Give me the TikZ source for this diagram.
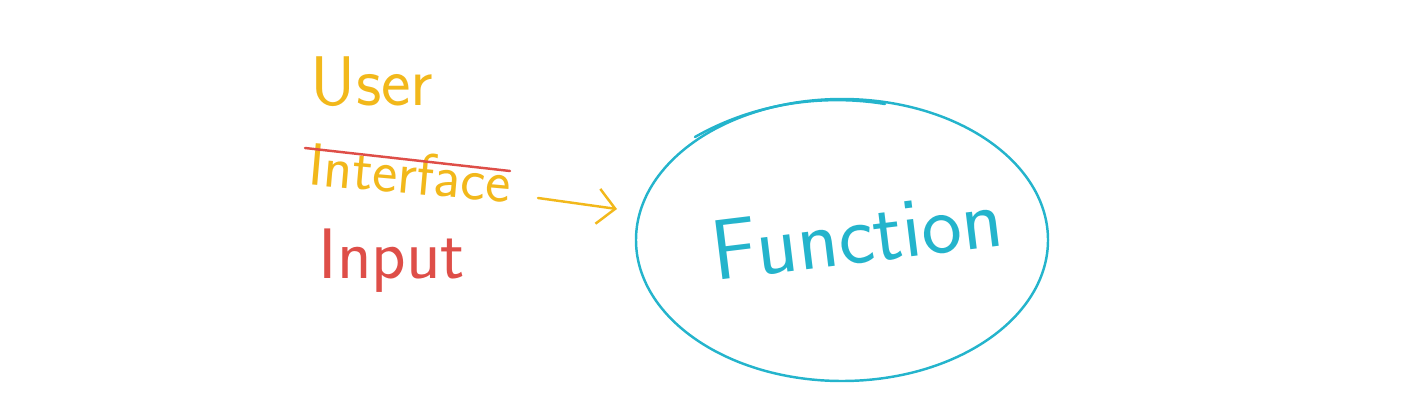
\documentclass[tikz,border=0pt]{standalone}
\usepackage{tikz}
\usepackage{xcolor}
\usetikzlibrary{arrows.meta,shapes.geometric}
\definecolor{penyellow}{RGB}{242, 184, 27}
\definecolor{penred}{RGB}{222, 78, 72}
\definecolor{pencyan}{RGB}{36, 180, 204}
\tikzset{
  scribble/.style={font=\sffamily\fontsize{#1}{#1}\selectfont, inner sep=0pt},
  pen/.style={line width=2.1pt, line cap=round, line join=round},
  ring/.style={ellipse, draw=pencyan, pen, minimum width=12.36cm, minimum height=8.46cm}
}
\begin{document}
\begin{tikzpicture}[x=0.03cm, y=-0.03cm]
                \useasboundingbox (0,0) rectangle (1422,419);
                % Left column of words
                \node[scribble=60, text=penyellow] (user) at (372,82) {User};
                \node[scribble=51, text=penyellow, rotate=-5] (interface) at (410,173) {Interface};
                \node[scribble=61, text=penred] (input) at (392,261) {Input};
                
                % Strike through the old word
                \coordinate (strikeA) at (305,148);
                \coordinate (strikeB) at (510,171);
                \draw[pen, penred] (strikeA) -- (strikeB);
                
                % Arrow into the function
                \coordinate (arrowA) at (538,198);
                \coordinate (arrowB) at (617,209);
                \draw[pen, penyellow, -{Straight Barb[length=15pt, width=30pt]}] (arrowA) -- (arrowB);
                
                % Function ring
                \node[ring] (fn) at (842,240) {};
                \coordinate (loopA) at (695,137);
                \coordinate (loopB) at (885,104);
                \draw[pen, pencyan] (loopA) .. controls (760,100) and (830,95) .. (loopB);
                \node[scribble=73, text=pencyan, rotate=7] (function) at (857,234) {Function};
            \end{tikzpicture}
\end{document}
